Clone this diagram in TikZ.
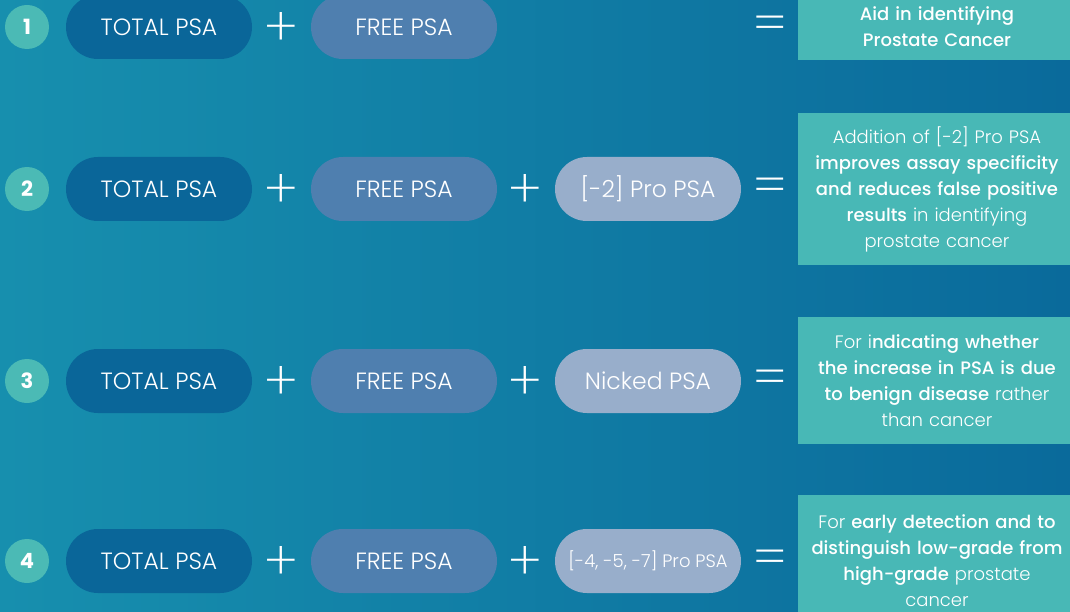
\documentclass[tikz,border=0pt]{standalone}
\usepackage{fontspec}
\setmainfont{Poppins}[UprightFont=* Light, BoldFont=* Medium]
\newfontfamily\numfont{Poppins}[UprightFont=* Bold]
\newfontfamily\symfont{Poppins}[UprightFont=* ExtraLight]
\usetikzlibrary{positioning}

\definecolor{bgleft}{HTML}{178FAE}
\definecolor{bgmid}{HTML}{0E7CA6}
\definecolor{bgright}{HTML}{0A6A9B}
\definecolor{numteal}{HTML}{4BBAB5}
\definecolor{totblue}{HTML}{0A6699}
\definecolor{freeblue}{HTML}{4F7FAF}
\definecolor{problue}{HTML}{98AECB}
\definecolor{boxteal}{HTML}{48B8B6}

\tikzset{
  numdot/.style={circle, fill=numteal, minimum size=44pt, inner sep=0pt,
    text=white, font=\fontsize{21}{21}\numfont},
  pill/.style={rounded corners=32pt, minimum width=186pt, minimum height=64pt,
    inner sep=0pt, text=white, font=\fontsize{23.5}{26}\selectfont},
  sym/.style={inner sep=0pt, text=white, font=\fontsize{54}{54}\symfont},
  infobox/.style={fill=boxteal, minimum width=276pt, text width=272pt,
    align=center, text=white, font=\fontsize{18}{26}\selectfont}
}

\begin{document}
\begin{tikzpicture}[x=1pt, y=-1pt]
\useasboundingbox (0,0) rectangle (1070,612);
\clip (0,0) rectangle (1070,612);
\shade[left color=bgleft, middle color=bgmid, right color=bgright] (0,0) rectangle (1070,612);

% rows
\foreach \n/\y in {1/27, 2/189, 3/381, 4/561} {
  \node[numdot] (num\n) at (27,\y) {\n};
  \node[pill, fill=totblue] (tot\n) at (159,\y) {TOTAL PSA};
  \node[sym] (plus\n) at (281,\y+2) {+};
  \node[pill, fill=freeblue] (free\n) at (404,\y) {FREE PSA};
  \node[sym] (eq\n) at (770,\y+2) {=};
}

% third marker
\node[sym] (plusb2) at (525,191) {+};
\node[pill, fill=problue] (pro2) at (648,189) {[-2] Pro PSA};
\node[sym] (plusb3) at (525,383) {+};
\node[pill, fill=problue] (pro3) at (648,381) {Nicked PSA};
\node[sym] (plusb4) at (525,563) {+};
\node[pill, fill=problue, font=\fontsize{18}{20}\selectfont] (pro4) at (648,561) {[-4, -5, -7] Pro PSA};

% results
\node[infobox, minimum height=66pt] (res1) at (937,27) {\textbf{Aid in identifying\\Prostate Cancer}};
\node[infobox, minimum height=152pt] (res2) at (937,189) {Addition of [-2] Pro PSA\\\textbf{improves assay specificity}\\\textbf{and reduces false positive}\\\textbf{results} in identifying\\prostate cancer};
\node[infobox, minimum height=127pt] (res3) at (937,380.5) {For i\textbf{ndicating whether}\\\textbf{the increase in PSA is due}\\\textbf{to benign disease} rather\\than cancer};
\node[infobox, minimum height=132pt] (res4) at (937,561) {For \textbf{early detection and to}\\\textbf{distinguish low-grade from}\\\textbf{high-grade} prostate\\cancer};

\end{tikzpicture}
\end{document}
